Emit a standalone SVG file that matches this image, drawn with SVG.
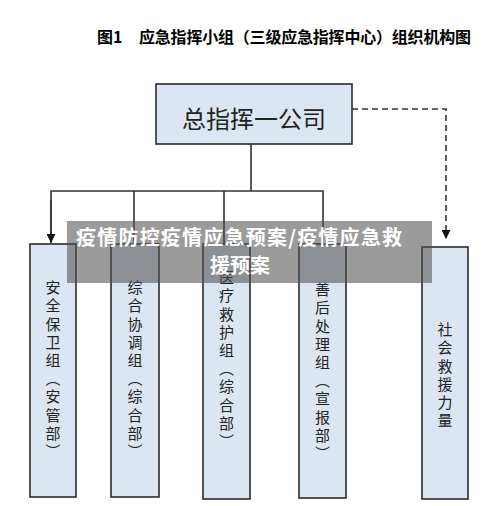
<svg xmlns="http://www.w3.org/2000/svg" width="500" height="506" viewBox="0 0 500 506">
<defs>
<style>
.box{fill:#dce6f2;stroke:#2b2b2b;stroke-width:1.6}
.ln{fill:none;stroke:#333;stroke-width:1.6}
.dash{fill:none;stroke:#333;stroke-width:1.6;stroke-dasharray:6,4}
.vt{font-family:"Noto Sans CJK SC","Noto Sans CJK JP",sans-serif;font-size:15px;fill:#222;writing-mode:tb;letter-spacing:3.2px;text-anchor:start}
.title{font-family:"Noto Sans CJK SC",sans-serif;font-size:16px;font-weight:bold;fill:#000}
.wm{font-family:"Noto Sans CJK SC",sans-serif;font-size:20px;font-weight:bold;fill:#fff;text-anchor:middle}
</style>
<marker id="arr" viewBox="0 0 10 10" refX="10" refY="5" markerWidth="9" markerHeight="9" markerUnits="userSpaceOnUse" orient="auto">
<path d="M0,0 L10,5 L0,10 z" fill="#111"/>
</marker>
</defs>
<rect width="500" height="506" fill="#fff"/>
<text class="title" x="97" y="43">图1</text>
<text class="title" x="139" y="43" textLength="332">应急指挥小组（三级应急指挥中心）组织机构图</text>
<g id="connectors">
<line class="ln" x1="251" y1="144" x2="251" y2="191"/>
<polyline class="ln" points="51,242 51,191 323,191 323,244"/>
<line class="ln" x1="134" y1="191" x2="134" y2="244"/>
<line class="ln" x1="224" y1="191" x2="224" y2="244"/>
<line class="ln" x1="51" y1="200" x2="51" y2="243" marker-end="url(#arr)"/>
<polyline class="dash" points="352,109 446,109 446,238"/>
<line x1="446" y1="228" x2="446" y2="239" stroke="none" marker-end="url(#arr)"/>
</g>
<g id="n0">
<rect class="box" x="156" y="84" width="196" height="60"/>
<text x="254" y="128" font-family="Noto Sans CJK SC,sans-serif" font-size="24" fill="#222" text-anchor="middle">总指挥一公司</text>
</g>
<g id="n1">
<rect class="box" x="30" y="244" width="46" height="253"/>
<text class="vt" x="53" y="280">安全保卫组（安管部）</text>
</g>
<g id="n2">
<rect class="box" x="111" y="244" width="48" height="253"/>
<text class="vt" x="135" y="280">综合协调组（综合部）</text>
</g>
<g id="n3">
<rect class="box" x="203" y="244" width="47" height="255"/>
<text class="vt" x="226.5" y="270">医疗救护组（综合部）</text>
</g>
<g id="n4">
<rect class="box" x="299" y="244" width="47" height="254"/>
<text class="vt" x="322.5" y="282">善后处理组（宣报部）</text>
</g>
<g id="n5">
<rect class="box" x="422" y="247" width="46" height="252"/>
<text class="vt" x="445" y="322">社会救援力量</text>
</g>
<g id="watermark">
<rect x="67" y="221" width="365" height="62" fill="rgb(80,80,80)" fill-opacity="0.57"/>
<text class="wm" x="239" y="245" textLength="326">疫情防控疫情应急预案/疫情应急救</text>
<text class="wm" x="240" y="273">援预案</text>
</g>
</svg>
